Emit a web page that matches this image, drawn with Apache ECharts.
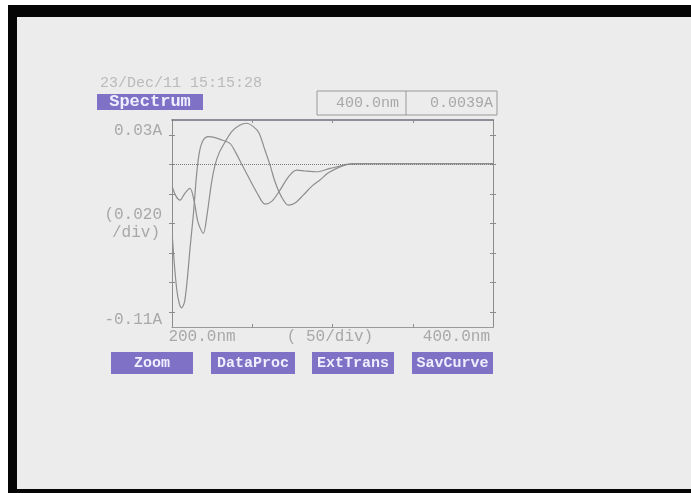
<!DOCTYPE html>
<html>
<head>
<meta charset="utf-8">
<script src="https://cdn.jsdelivr.net/npm/echarts@6/dist/echarts.min.js"></script>
<style>
html,body{margin:0;padding:0;background:#ffffff;}
#chart{width:691px;height:493px;}
</style>
</head>
<body>
<div id="chart"></div>
<script>
// Wavelength (nm) and absorbance (A)
const wlA = [200.3, 201.5, 203.0, 204.5, 206.0, 207.8, 209.5, 211.3, 213.3, 215.4, 217.2, 219.5, 222.6, 226.8, 231.0, 236.1, 239.9, 243.4, 248.6, 253.0, 258.0, 262.3, 267.3, 272.9, 277.7, 282.9, 290.2, 298.4, 304.7, 308.8, 320, 350, 400];
const absA = [-0.050, -0.068, -0.085, -0.094, -0.097, -0.093, -0.078, -0.056, -0.034, -0.006, 0.009, 0.0165, 0.0187, 0.0181, 0.0165, 0.0142, 0.0076, 0.0002, -0.0106, -0.0194, -0.0269, -0.0249, -0.0174, -0.0079, -0.0039, -0.0045, -0.0050, -0.0027, -0.0012, 0.0000, 0.0005, 0.0005, 0.0005];
const wlB = [200.2, 202.5, 205.0, 208.1, 211.2, 213.7, 216.2, 219.5, 221.8, 224.7, 226.8, 229.3, 232.0, 237.2, 242.4, 246.5, 250.7, 254.2, 257.9, 261.1, 264.2, 268.0, 272.5, 276.6, 281.8, 287.2, 292.2, 297.2, 302.6, 307.8, 312.8, 350, 400];
const absB = [-0.0152, -0.0215, -0.0242, -0.0194, -0.0163, -0.0242, -0.0391, -0.0467, -0.0343, -0.0118, -0.0005, 0.0076, 0.0131, 0.0221, 0.0266, 0.0278, 0.0255, 0.0212, 0.0097, -0.0005, -0.0118, -0.0215, -0.0276, -0.0262, -0.0208, -0.0147, -0.0106, -0.0059, -0.0027, -0.0005, 0.0005, 0.0005, 0.0005];
const yTicks = [0.02, 0, -0.02, -0.04, -0.06, -0.08, -0.10];
const xTicks = [250, 300, 350];
const yLabels = ['0.03A', '(0.020', '/div)', '-0.11A'];
const xLabels = ['200.0nm', '( 50/div)', '400.0nm'];
const buttons = ['Zoom', 'DataProc', 'ExtTrans', 'SavCurve'];
const headerText = '23/Dec/11 15:15:28';
const modeText = 'Spectrum';
const cursorWl = '400.0nm';
const cursorAbs = '0.0039A';

const chart = echarts.init(document.getElementById('chart'), null, {renderer: 'canvas'});
const mono = '"Liberation Mono", "DejaVu Sans Mono", monospace';
const txtCol = '#a8a8a8';
const axisCol = '#8c8c8c';
const purple = '#7f72c6';

function yAx(pos, inside) {
  return {
    type: 'value', position: pos, min: -0.11, max: 0.03,
    axisLine: {show: true, onZero: false, lineStyle: {color: axisCol, width: 1}},
    axisTick: {show: true, inside: inside, length: 3, customValues: yTicks, lineStyle: {color: axisCol}},
    axisLabel: {show: false}, splitLine: {show: false}
  };
}
function xAx(pos, inside, col, w) {
  return {
    type: 'value', position: pos, min: 200, max: 400,
    axisLine: {show: true, onZero: false, lineStyle: {color: col, width: w}},
    axisTick: {show: true, inside: inside, length: 3, customValues: xTicks, lineStyle: {color: axisCol}},
    axisLabel: {show: false}, splitLine: {show: false}
  };
}

const buttonBoxes = [[111, 193], [211, 295], [312, 394], [412, 493]];
const graphics = [
  {type: 'rect', shape: {x: 0, y: 0, width: 691, height: 493}, style: {fill: '#ffffff'}, z: -10},
  {type: 'rect', shape: {x: 8, y: 5, width: 683, height: 488}, style: {fill: '#050505'}, z: -9},
  {type: 'rect', shape: {x: 17, y: 17, width: 674, height: 472}, style: {fill: '#ececec'}, z: -8},
  {type: 'text', style: {text: headerText, x: 100, y: 83, font: '15px ' + mono, fill: '#bababa', textVerticalAlign: 'middle'}},
  {type: 'rect', shape: {x: 97, y: 94, width: 106, height: 16}, style: {fill: purple}},
  {type: 'text', style: {text: modeText, x: 150, y: 102, font: 'bold 17px ' + mono, fill: '#eeeeff', textAlign: 'center', textVerticalAlign: 'middle'}},
  {type: 'rect', shape: {x: 317, y: 91, width: 180, height: 24}, style: {fill: 'none', stroke: '#999999', lineWidth: 1}},
  {type: 'line', shape: {x1: 406, y1: 91, x2: 406, y2: 115}, style: {stroke: '#999999', lineWidth: 1}},
  {type: 'text', style: {text: cursorWl, x: 399, y: 103, font: '15px ' + mono, fill: txtCol, textAlign: 'right', textVerticalAlign: 'middle'}},
  {type: 'text', style: {text: cursorAbs, x: 493, y: 103, font: '15px ' + mono, fill: txtCol, textAlign: 'right', textVerticalAlign: 'middle'}},
  {type: 'text', style: {text: yLabels[0], x: 162, y: 131, font: '16px ' + mono, fill: txtCol, textAlign: 'right', textVerticalAlign: 'middle'}},
  {type: 'text', style: {text: yLabels[1], x: 162, y: 215, font: '16px ' + mono, fill: txtCol, textAlign: 'right', textVerticalAlign: 'middle'}},
  {type: 'text', style: {text: yLabels[2], x: 160, y: 233, font: '16px ' + mono, fill: txtCol, textAlign: 'right', textVerticalAlign: 'middle'}},
  {type: 'text', style: {text: yLabels[3], x: 162, y: 320, font: '16px ' + mono, fill: txtCol, textAlign: 'right', textVerticalAlign: 'middle'}},
  {type: 'text', style: {text: xLabels[0], x: 202, y: 337, font: '16px ' + mono, fill: txtCol, textAlign: 'center', textVerticalAlign: 'middle'}},
  {type: 'text', style: {text: xLabels[1], x: 330, y: 337, font: '16px ' + mono, fill: txtCol, textAlign: 'center', textVerticalAlign: 'middle'}},
  {type: 'text', style: {text: xLabels[2], x: 490, y: 337, font: '16px ' + mono, fill: txtCol, textAlign: 'right', textVerticalAlign: 'middle'}}
];
buttons.forEach(function (b, i) {
  const bx = buttonBoxes[i];
  graphics.push({type: 'rect', shape: {x: bx[0], y: 352, width: bx[1] - bx[0], height: 22}, style: {fill: purple}});
  graphics.push({type: 'text', style: {text: b, x: (bx[0] + bx[1]) / 2, y: 363, font: 'bold 15px ' + mono, fill: '#eeeeff', textAlign: 'center', textVerticalAlign: 'middle'}});
});

chart.setOption({
  animation: false,
  backgroundColor: 'transparent',
  grid: {left: 172, right: 198, top: 120, bottom: 166, containLabel: false},
  xAxis: [xAx('bottom', true, '#9a9a9a', 1), xAx('top', true, '#6f6f7c', 1.5)],
  yAxis: [yAx('left', true), yAx('right', true), yAx('left', false), yAx('right', false)],
  graphic: graphics,
  series: [
    {
      type: 'line', xAxisIndex: 0, yAxisIndex: 0, smooth: 0.3, showSymbol: false,
      data: wlA.map(function (x, i) { return [x, absA[i]]; }),
      lineStyle: {color: '#8e8e8e', width: 1.2},
      markLine: {
        silent: true, symbol: 'none', label: {show: false},
        lineStyle: {color: '#7a7a7a', type: 'dotted', width: 1},
        data: [{yAxis: 0}]
      }
    },
    {
      type: 'line', xAxisIndex: 0, yAxisIndex: 0, smooth: 0.3, showSymbol: false,
      data: wlB.map(function (x, i) { return [x, absB[i]]; }),
      lineStyle: {color: '#8e8e8e', width: 1.2}
    }
  ]
});
</script>
</body>
</html>
